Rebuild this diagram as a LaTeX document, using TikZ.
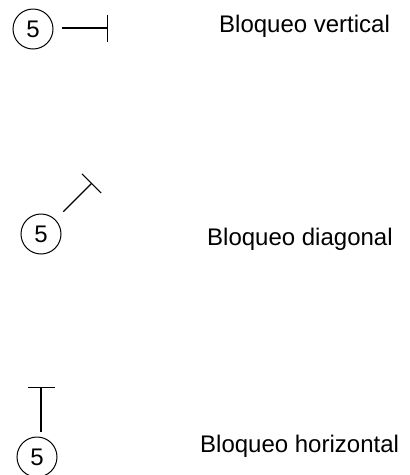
\documentclass[tikz,border=0pt]{standalone}
\usepackage{fontspec}
\setmainfont{Liberation Sans}
\usetikzlibrary{arrows.meta, positioning}

\begin{document}
\begin{tikzpicture}[x=1pt, y=-1pt,
        num/.style={draw, circle, line width=1pt, minimum size=40pt, inner sep=0pt, font=\fontsize{24}{28}\selectfont},
        block/.style={line width=1.2pt, -{Bar[width=27pt]}},
        lbl/.style={anchor=base west, inner sep=0pt, font=\fontsize{24}{28}\selectfont}]
    \useasboundingbox (0,0) rectangle (410,475);
    % vertical
    \node[num] (n1) at (33,29) {5};
    \coordinate (t1) at (108,28);
    \draw[block, shorten <=8pt] (n1.east |- t1) -- (t1);
    \node[lbl] (l1) at (219,32) {Bloqueo vertical};
    % diagonal
    \node[num] (n2) at (41,234) {5};
    \coordinate (t2) at (92,183);
    \draw[block, shorten <=11pt] (n2) -- (t2);
    \node[lbl] (l2) at (207,245) {Bloqueo diagonal};
    % horizontal
    \node[num] (n3) at (37,457) {5};
    \coordinate (t3) at (41,387);
    \draw[block, shorten <=5pt] (n3.north -| t3) -- (t3);
    \node[lbl] (l3) at (200,452) {Bloqueo horizontal};
\end{tikzpicture}
\end{document}
